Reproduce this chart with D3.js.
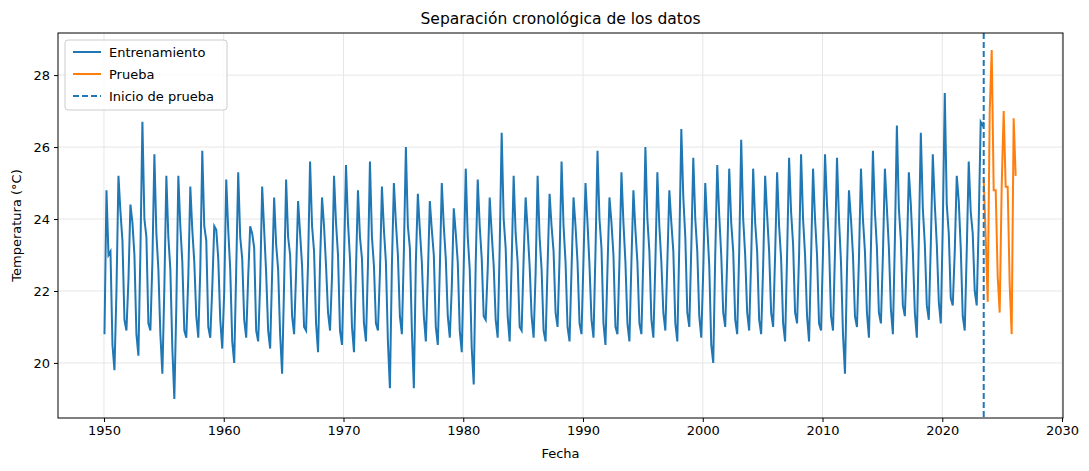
<!DOCTYPE html>
<html><head><meta charset="utf-8">
<script src="https://cdn.jsdelivr.net/npm/d3@7"></script>
<style>body{margin:0;background:#fff;font-family:"DejaVu Sans",sans-serif}</style>
</head><body><svg id="c" width="1089" height="471"></svg>
<script>
// Training: bimonthly readings per year (Jan, Mar, May, Jul, Sep, Nov), starting 1950
const trainStartYear = 1950;
const trainValues = [
[20.8,24.8,23.0,23.1,20.5,19.8],[22.0,25.2,24.2,23.4,21.2,20.9],[22.3,24.4,23.9,23.0,20.8,20.2],[23.1,26.7,24.0,23.5,21.1,20.9],
[22.8,25.8,23.6,22.6,20.8,19.7],[22.1,25.2,23.5,22.6,20.4,19.0],[21.6,25.2,23.8,22.8,20.9,20.7],[22.4,24.9,23.7,22.8,21.3,20.7],
[22.6,25.9,23.8,23.4,21.0,20.7],[22.1,23.8,23.7,22.9,21.2,20.4],[22.0,25.1,23.7,22.6,20.6,20.0],[22.6,25.3,23.5,22.9,21.2,20.7],
[22.4,23.8,23.6,23.2,20.9,20.6],[22.2,24.9,23.7,22.5,20.9,20.4],[22.5,24.6,23.3,22.6,20.8,19.7],[22.2,25.1,23.5,23.0,21.3,20.8],
[22.5,24.5,23.6,22.7,21.0,20.9],[22.8,25.6,23.8,23.1,21.1,20.3],[22.8,24.6,23.8,22.7,21.4,20.9],[22.4,25.2,23.9,23.0,20.9,20.5],
[22.8,25.5,23.9,22.9,21.0,20.3],[22.6,24.8,23.5,22.9,21.1,20.6],[22.7,25.6,23.5,22.7,21.1,20.9],[22.5,24.9,23.7,22.8,20.6,19.3],
[22.7,25.0,23.9,23.0,21.3,20.8],[23.1,26.0,23.8,23.2,20.9,19.3],[22.8,24.7,23.7,22.8,21.3,20.6],[22.4,24.5,23.7,23.0,21.0,20.5],
[22.6,25.0,23.8,22.9,21.3,20.7],[22.1,24.3,23.6,22.8,20.9,20.3],[22.7,25.4,23.5,22.6,20.4,19.4],[22.8,25.1,23.8,22.9,21.3,21.2],
[22.6,24.6,23.6,22.7,21.2,20.7],[23.2,26.4,24.0,23.2,21.3,20.6],[22.8,25.2,23.6,22.8,21.0,20.9],[22.9,24.6,23.7,22.7,21.3,20.7],
[22.5,25.2,23.5,22.6,20.9,20.6],[22.7,24.7,23.8,23.1,21.4,21.0],[22.9,25.6,23.8,22.8,21.0,20.6],[22.6,24.6,23.8,22.8,21.1,20.8],
[22.9,25.0,23.9,22.7,21.2,20.7],[23.1,25.9,24.0,23.2,21.1,20.5],[22.6,24.6,23.9,23.0,21.0,20.8],[22.8,25.3,23.9,22.8,21.1,20.6],
[22.8,24.8,23.7,22.8,21.1,20.8],[23.0,26.0,24.0,23.1,21.2,20.7],[22.8,25.3,23.8,22.8,21.4,20.9],[22.8,24.8,23.9,23.1,21.1,20.6],
[23.3,26.5,24.6,23.5,21.4,21.0],[23.2,25.7,24.0,23.1,21.3,20.7],[22.6,25.0,23.8,22.7,20.5,20.0],[23.0,25.5,24.1,23.0,21.4,21.0],
[22.9,25.4,23.9,23.1,21.2,20.8],[23.1,26.2,24.0,23.0,21.4,20.9],[22.9,25.4,23.9,23.1,21.2,20.8],[22.7,25.2,24.1,23.1,21.4,21.0],
[23.0,25.3,23.8,22.9,21.1,20.6],[23.0,25.7,24.2,23.3,21.4,21.1],[23.0,25.8,24.0,23.0,21.3,20.6],[22.9,25.4,24.0,23.0,21.1,20.9],
[23.1,25.8,24.4,23.3,21.3,20.9],[23.1,25.7,24.0,22.8,20.8,19.7],[22.6,24.8,24.0,23.0,21.3,21.0],[22.9,25.4,24.0,23.1,21.4,20.7],
[23.2,25.9,24.2,23.2,21.4,21.1],[23.0,25.4,24.3,23.2,21.5,20.8],[23.4,26.6,24.3,23.4,21.6,21.3],[23.0,25.3,24.4,23.1,21.4,20.7],
[23.4,26.4,24.3,23.3,21.6,21.2],[23.3,25.8,24.4,23.3,21.7,21.1],[23.8,27.5,24.4,23.6,21.8,21.6],[23.1,25.2,24.5,23.2,21.3,20.9],
[23.1,25.6,24.2,23.6,22.0,21.6],[23.9,26.7,26.6]
];
// Test: bimonthly readings from mid-2023
const testStart = 2023.46;
const testValues = [25.1,23.5,21.7,27.0,28.7,24.8,24.8,22.4,21.4,24.9,27.0,24.9,24.9,22.2,20.8,26.8,25.2];
const splitDate = 2023.46;
const xTicks = [1950,1960,1970,1980,1990,2000,2010,2020,2030];
const yTicks = [20,22,24,26,28];

const train = [];
trainValues.forEach((yr,i)=>yr.forEach((v,j)=>train.push({x:trainStartYear+i+(j*2+0.5)/12,y:v})));
train.push({x:splitDate,y:26.7});
const test = testValues.map((v,i)=>({x:testStart+i*2/12,y:v}));

const svg=d3.select("#c");
const m={l:58,r:1063,t:33,b:418};
const x=d3.scaleLinear().domain([1946.16,2030.08]).range([m.l,m.r]);
const y=d3.scaleLinear().domain([18.47,29.17]).range([m.b,m.t]);
const g=svg.append("g");
g.selectAll(".gx").data(xTicks).join("line").attr("x1",d=>x(d)).attr("x2",d=>x(d)).attr("y1",m.t).attr("y2",m.b).attr("stroke","#e6e6e6");
g.selectAll(".gy").data(yTicks).join("line").attr("y1",d=>y(d)).attr("y2",d=>y(d)).attr("x1",m.l).attr("x2",m.r).attr("stroke","#e6e6e6");
const line=d3.line().x(d=>x(d.x)).y(d=>y(d.y));
svg.append("path").datum(train).attr("d",line).attr("fill","none").attr("stroke","#1f77b4").attr("stroke-width",2);
svg.append("path").datum(test).attr("d",line).attr("fill","none").attr("stroke","#ff7f0e").attr("stroke-width",2);
svg.append("line").attr("x1",x(splitDate)).attr("x2",x(splitDate)).attr("y1",m.t).attr("y2",m.b).attr("stroke","#1f77b4").attr("stroke-width",2).attr("stroke-dasharray","6,3");
svg.append("rect").attr("x",m.l).attr("y",m.t).attr("width",m.r-m.l).attr("height",m.b-m.t).attr("fill","none").attr("stroke","#000").attr("stroke-width",1);
const xa=svg.append("g").attr("transform",`translate(0,${m.b})`).call(d3.axisBottom(x).tickValues(xTicks).tickFormat(d3.format("d")).tickSize(4).tickPadding(4));
const ya=svg.append("g").attr("transform",`translate(${m.l},0)`).call(d3.axisLeft(y).tickValues(yTicks).tickSize(4).tickPadding(4));
[xa,ya].forEach(a=>{a.select(".domain").remove();a.selectAll("text").attr("font-size",13).attr("font-family","DejaVu Sans").attr("fill","#000");});
svg.append("text").attr("x",(m.l+m.r)/2).attr("y",24).attr("text-anchor","middle").attr("font-size",15.5).text("Separación cronológica de los datos");
svg.append("text").attr("x",(m.l+m.r)/2).attr("y",458).attr("text-anchor","middle").attr("font-size",13).text("Fecha");
svg.append("text").attr("transform",`translate(21,${(m.t+m.b)/2}) rotate(-90)`).attr("text-anchor","middle").attr("font-size",13).text("Temperatura (°C)");
const lg=svg.append("g").attr("transform","translate(65,40)");
lg.append("rect").attr("width",162).attr("height",70).attr("rx",3).attr("fill","#fff").attr("fill-opacity",0.8).attr("stroke","#ccc");
[["Entrenamiento","#1f77b4",null],["Prueba","#ff7f0e",null],["Inicio de prueba","#1f77b4","6,3"]].forEach((d,i)=>{
 const yy=12+i*22;
 lg.append("line").attr("x1",8).attr("x2",36).attr("y1",yy).attr("y2",yy).attr("stroke",d[1]).attr("stroke-width",2).attr("stroke-dasharray",d[2]);
 lg.append("text").attr("x",44).attr("y",yy+4.5).attr("font-size",13).text(d[0]);
});
</script></body></html>
